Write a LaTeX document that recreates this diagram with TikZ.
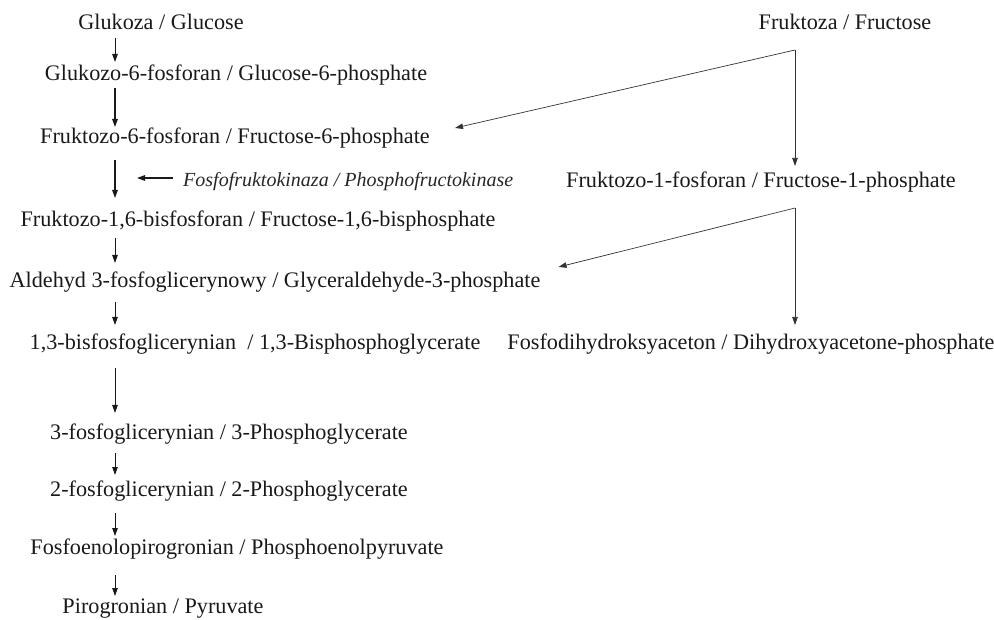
\documentclass[tikz,border=0pt]{standalone}
\usepackage{fontspec}
\setmainfont{Liberation Serif}
\usetikzlibrary{arrows.meta, positioning, calc}

\begin{document}
\begin{tikzpicture}[
    x=1pt, y=-1pt,
    compound/.style={inner sep=0pt, text height=15.5pt, text depth=2pt, text=black!90, font=\fontsize{22.2}{26}\selectfont},
    enzyme/.style={inner sep=0pt, text height=14pt, text depth=2pt, text=black!85, font=\fontsize{20}{24}\selectfont\itshape},
    stepline/.style={draw=black!90, line width=0.9pt, -{Triangle[length=8pt, width=5.5pt]}},
    branch/.style={draw=black!80, line width=0.7pt, -{Triangle[length=8pt, width=5.5pt]}}
]
\useasboundingbox (0,0) rectangle (994,620);

% Nodes - glycolysis
\node[compound] (glc) at (161,23) {Glukoza / Glucose};
\node[compound] (g6p) at (236,74) {Glukozo-6-fosforan / Glucose-6-phosphate};
\node[compound] (f6p) at (235,137) {Fruktozo-6-fosforan / Fructose-6-phosphate};
\node[compound] (f16bp) at (258,220) {Fruktozo-1,6-bisfosforan / Fructose-1,6-bisphosphate};
\node[compound] (gap) at (275,281) {Aldehyd 3-fosfoglicerynowy / Glyceraldehyde-3-phosphate};
\node[compound] (bpg) at (255,343) {1,3-bisfosfoglicerynian \ / 1,3-Bisphosphoglycerate};
\node[compound] (pg3) at (229,433) {3-fosfoglicerynian / 3-Phosphoglycerate};
\node[compound] (pg2) at (229,490) {2-fosfoglicerynian / 2-Phosphoglycerate};
\node[compound] (pep) at (237,548) {Fosfoenolopirogronian / Phosphoenolpyruvate};
\node[compound] (pyr) at (163,607) {Pirogronian / Pyruvate};
\node[enzyme, anchor=west] (pfk) at (183,181) {Fosfofruktokinaza / Phosphofructokinase};

% Nodes - fructose
\node[compound] (fru) at (845,23) {Fruktoza / Fructose};
\node[compound] (f1p) at (761,181) {Fruktozo-1-fosforan / Fructose-1-phosphate};
\node[compound] (dhap) at (751,343) {Fosfodihydroksyaceton / Dihydroxyacetone-phosphate};

\coordinate (axis) at (115,0);
\coordinate (fork1) at (795,50);
\coordinate (fork2) at (795,208);

% Arrows
\draw[stepline] ($(glc -| axis)+(0,15)$) -- ($(g6p -| axis)+(0,-12)$);
\draw[stepline, line width=1.3pt] ($(g6p -| axis)+(0,14)$) -- ($(f6p -| axis)+(0,-10)$);
\draw[stepline, line width=1.3pt] ($(f6p -| axis)+(0,23)$) -- ($(f16bp -| axis)+(0,-22)$);
\draw[stepline, line width=1.3pt] ($(pfk.west)+(-10,-3)$) -- ($(pfk.west -| axis)+(22,-3)$);
\draw[stepline] ($(f16bp -| axis)+(0,18)$) -- ($(gap -| axis)+(0,-18)$);
\draw[stepline] ($(gap -| axis)+(0,21)$) -- ($(bpg -| axis)+(0,-18)$);
\draw[stepline] ($(bpg -| axis)+(0,25)$) -- ($(pg3 -| axis)+(0,-20)$);
\draw[stepline] ($(pg3 -| axis)+(0,20)$) -- ($(pg2 -| axis)+(0,-15)$);
\draw[stepline] ($(pg2 -| axis)+(0,23)$) -- ($(pep -| axis)+(0,-12)$);
\draw[stepline] ($(pep -| axis)+(0,27)$) -- ($(pyr -| axis)+(0,-11)$);

\draw[branch] (fork1) -- ($(f1p -| fork1)+(0,-15)$);
\draw[branch] (fork1) -- ($(f6p.east)+(25,-9)$);
\draw[branch] (fork2) -- ($(dhap -| fork2)+(0,-18)$);
\draw[branch] (fork2) -- ($(gap.east)+(18,-14)$);

\end{tikzpicture}
\end{document}
